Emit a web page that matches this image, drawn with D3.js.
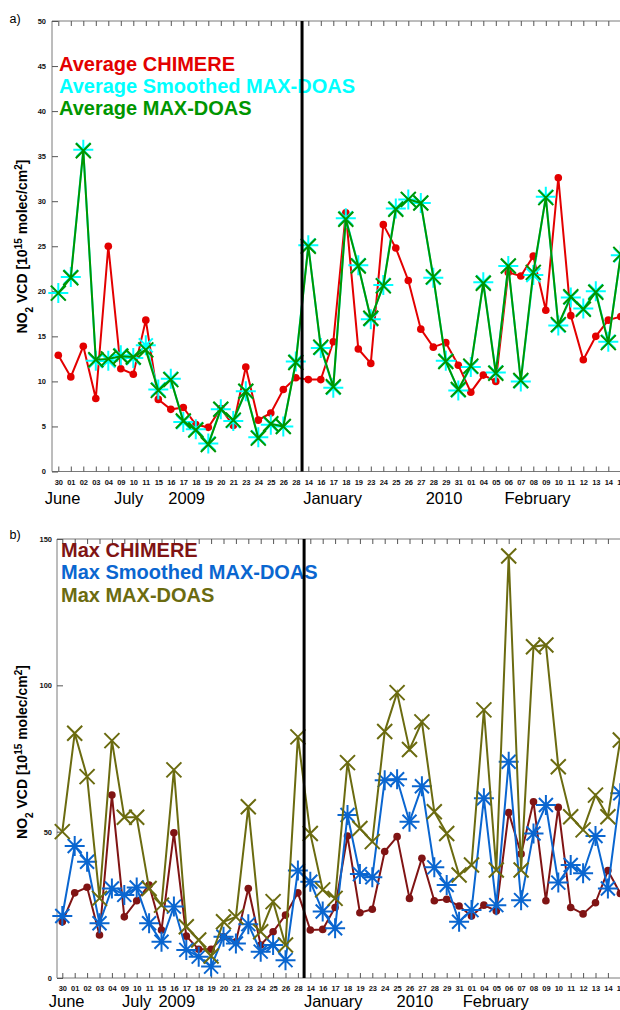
<!DOCTYPE html>
<html>
<head>
<meta charset="utf-8">
<script src="https://cdn.jsdelivr.net/npm/d3@7"></script>
<style>
  body { margin: 0; background: #fff; }
  svg { display: block; font-family: "Liberation Sans", Arial, sans-serif; }
</style>
</head>
<body>
<div id="chart"></div>
<script>
// category labels (measurement days), Jun-Jul 2009 then Jan-Feb 2010
const TICK_LABELS = ["30", "01", "02", "03", "04", "09", "10", "11", "15", "16",
  "17", "18", "19", "20", "21", "23", "24", "25", "26", "28",
  "14", "16", "17", "18", "19", "23", "24", "25", "26", "27",
  "28", "29", "31", "01", "04", "05", "06", "07", "08", "09",
  "10", "11", "12", "13", "14", "15"];
const MONTH_LABELS = ["June", "July", "2009", "January", "2010", "February"];

// a) averages
const AVG_CHIMERE = [12.9, 10.5, 13.9, 8.1, 25.0, 11.4, 10.8, 16.8, 8.0, 6.9,
  7.1, 5.2, 4.9, 7.0, 5.1, 11.6, 5.7, 6.5, 9.1, 10.4,
  10.2, 10.2, 14.4, 28.7, 13.6, 12.0, 27.4, 24.8, 21.2, 15.8,
  13.8, 14.3, 11.8, 8.8, 10.7, 10.0, 22.1, 21.7, 23.9, 17.9,
  32.6, 17.3, 12.4, 15.0, 16.8, 17.2];
const AVG_SMOOTHED = [19.8, 21.6, 35.7, 12.3, 12.3, 12.9, 12.6, 14.0, 9.1, 10.3,
  5.5, 4.7, 3.1, 6.9, 5.6, 8.9, 3.8, 5.2, 5.0, 12.2,
  25.1, 13.7, 9.3, 28.1, 22.9, 16.9, 20.7, 29.2, 30.2, 29.8,
  21.5, 12.3, 9.0, 11.6, 21.0, 11.0, 22.8, 10.0, 21.8, 30.5,
  16.2, 19.3, 18.1, 20.0, 14.4, 24.0];
const AVG_MAXDOAS = [19.8, 21.5, 35.6, 12.4, 12.5, 12.8, 12.7, 13.5, 9.0, 10.2,
  5.6, 4.6, 3.0, 6.9, 5.7, 8.9, 3.7, 5.3, 5.0, 12.1,
  25.0, 13.8, 9.4, 28.0, 22.8, 17.0, 20.6, 29.1, 30.2, 29.8,
  21.6, 12.2, 9.1, 11.7, 20.9, 10.9, 22.8, 10.1, 22.1, 30.4,
  16.3, 19.4, 18.0, 19.9, 14.3, 24.1];

// b) maxima
const MAX_CHIMERE = [19.2, 29.1, 31.0, 14.7, 62.5, 20.9, 26.4, 31.8, 16.4, 49.6,
  14.3, 9.8, 9.8, 14.1, 12.4, 30.6, 11.3, 15.8, 21.5, 29.1,
  16.4, 16.6, 24.1, 48.5, 22.3, 23.5, 43.2, 48.3, 27.2, 40.9,
  26.4, 26.9, 24.6, 21.2, 24.9, 22.9, 56.5, 42.4, 60.2, 26.4,
  58.3, 24.1, 21.9, 25.7, 36.7, 28.9];
const MAX_SMOOTHED = [21.2, 45.1, 39.7, 18.7, 30.6, 28.4, 30.9, 18.7, 12.4, 24.4,
  9.6, 7.3, 3.9, 14.1, 11.8, 18.4, 9.0, 11.3, 6.1, 36.7,
  32.9, 22.7, 17.0, 55.7, 35.5, 34.4, 67.6, 67.9, 53.4, 65.5,
  37.8, 31.8, 19.2, 23.2, 61.4, 24.9, 73.9, 26.6, 49.4, 59.1,
  32.6, 38.6, 35.8, 48.5, 30.6, 63.1];
const MAX_MAXDOAS = [50.0, 83.6, 68.8, 27.2, 81.1, 54.9, 54.9, 30.6, 24.9, 71.1,
  17.5, 13.0, 7.5, 19.2, 20.9, 58.5, 15.8, 26.1, 11.3, 82.4,
  49.4, 30.1, 27.2, 73.6, 51.1, 46.6, 84.2, 97.5, 78.1, 87.5,
  56.8, 49.4, 35.2, 38.6, 91.6, 36.9, 144.2, 36.9, 113.2, 113.8,
  72.2, 55.1, 50.6, 62.5, 55.1, 81.3];

const WIDTH = 620, HEIGHT = 1010;

const PANELS = [
  {
    tag: "a)", tagY: 22.5,
    top: 21, bottom: 471.5, left: 52, x0: 58.3, step: 12.5,
    yMax: 50, yTicks: d3.range(0, 51, 5), yPad: 6,
    labelY: 246.5,
    monthAt: [0.34, 5.62, 10.27, 21.94, 30.86, 38.34], monthY: 504,
    legendX: 59, legendY: 71, legendDy: 22,
    series: [
      { name: "Average CHIMERE", values: AVG_CHIMERE, color: "#e30000", marker: "dot" },
      { name: "Average Smoothed MAX-DOAS", values: AVG_SMOOTHED, color: "#00ffff", marker: "star" },
      { name: "Average MAX-DOAS", values: AVG_MAXDOAS, color: "#009600", marker: "cross" }
    ]
  },
  {
    tag: "b)", tagY: 539,
    top: 539, bottom: 978, left: 57, x0: 62.3, step: 12.4,
    yMax: 150, yTicks: [0, 50, 100, 150], yPad: 5,
    labelY: 752,
    monthAt: [0.35, 6.0, 9.23, 21.85, 28.44, 34.96], monthY: 1006.5,
    legendX: 61, legendY: 557, legendDy: 22.3,
    series: [
      { name: "Max CHIMERE", values: MAX_CHIMERE, color: "#801414", marker: "dot" },
      { name: "Max Smoothed MAX-DOAS", values: MAX_SMOOTHED, color: "#0a66d0", marker: "star" },
      { name: "Max MAX-DOAS", values: MAX_MAXDOAS, color: "#6b6b10", marker: "cross" }
    ]
  }
];

const svg = d3.select("#chart")
  .append("svg")
  .attr("width", WIDTH)
  .attr("height", HEIGHT);

// marker shapes
const STAR = "M-10,0H10M0,-10V10M-7,-7L7,7M-7,7L7,-7";
const CROSS = "M-7.5,-7.5L7.5,7.5M-7.5,7.5L7.5,-7.5";

PANELS.forEach((p) => {
  const g = svg.append("g");

  const x = d3.scaleLinear()
    .domain([0, 44])
    .range([p.x0, p.x0 + 44 * p.step]);
  const y = d3.scaleLinear()
    .domain([0, p.yMax])
    .range([p.bottom, p.top]);

  // frame lines
  g.append("line")
    .attr("x1", p.left).attr("x2", WIDTH + 5)
    .attr("y1", p.bottom).attr("y2", p.bottom)
    .attr("stroke", "#7a7a7a");
  g.append("line")
    .attr("x1", p.left).attr("x2", WIDTH + 5)
    .attr("y1", p.top).attr("y2", p.top)
    .attr("stroke", "#7a7a7a");
  g.append("line")
    .attr("x1", p.left).attr("x2", p.left)
    .attr("y1", p.top).attr("y2", p.bottom)
    .attr("stroke", "#7a7a7a");

  // x axis with day labels
  const xAxis = g.append("g")
    .attr("transform", `translate(0,${p.bottom})`)
    .call(d3.axisBottom(x)
      .tickValues(d3.range(TICK_LABELS.length))
      .tickFormat((i) => TICK_LABELS[i])
      .tickSizeInner(-5)
      .tickSizeOuter(0)
      .tickPadding(8));
  xAxis.select(".domain").remove();
  xAxis.selectAll(".tick line").attr("stroke", "#555");
  xAxis.selectAll("text")
    .attr("font-family", "'Liberation Sans', Arial, sans-serif")
    .attr("font-size", "7.5px")
    .attr("font-weight", "bold")
    .attr("fill", "#111");

  // mirrored ticks along the top border
  const topAxis = g.append("g")
    .attr("transform", `translate(0,${p.top})`)
    .call(d3.axisTop(x)
      .tickValues(d3.range(TICK_LABELS.length))
      .tickFormat("")
      .tickSizeInner(-5)
      .tickSizeOuter(0));
  topAxis.select(".domain").remove();
  topAxis.selectAll(".tick line").attr("stroke", "#555");

  // y axis
  const yAxis = g.append("g")
    .attr("transform", `translate(${p.left},0)`)
    .call(d3.axisLeft(y)
      .tickValues(p.yTicks)
      .tickSizeInner(-6)
      .tickSizeOuter(0)
      .tickPadding(p.yPad));
  yAxis.select(".domain").remove();
  yAxis.selectAll(".tick line").attr("stroke", "#555");
  yAxis.selectAll("text")
    .attr("font-family", "'Liberation Sans', Arial, sans-serif")
    .attr("font-size", "7.5px")
    .attr("font-weight", "bold")
    .attr("fill", "#111");

  // month / year labels
  g.selectAll(".month")
    .data(MONTH_LABELS)
    .enter()
    .append("text")
    .attr("class", "month")
    .attr("x", (d, i) => x(p.monthAt[i]))
    .attr("y", p.monthY)
    .attr("text-anchor", "middle")
    .attr("font-size", "16.5px")
    .text((d) => d);

  // y label
  const yl = g.append("text")
    .attr("transform", `translate(27,${p.labelY}) rotate(-90)`)
    .attr("text-anchor", "middle")
    .attr("font-size", "14px")
    .attr("font-weight", "bold");
  yl.append("tspan").text("NO");
  yl.append("tspan").attr("baseline-shift", "sub").attr("font-size", "10px").text("2");
  yl.append("tspan").text(" VCD [10");
  yl.append("tspan").attr("baseline-shift", "super").attr("font-size", "10px").text("15");
  yl.append("tspan").text(" molec/cm");
  yl.append("tspan").attr("baseline-shift", "super").attr("font-size", "10px").text("2");
  yl.append("tspan").text("]");

  // panel tag
  g.append("text")
    .attr("x", 9.5)
    .attr("y", p.tagY)
    .attr("font-size", "12.5px")
    .text(p.tag);

  // series
  const line = d3.line()
    .x((d, i) => x(i))
    .y((d) => y(d));

  p.series.forEach((s) => {
    const sg = g.append("g").attr("class", "series");
    sg.append("path")
      .attr("d", line(s.values))
      .attr("fill", "none")
      .attr("stroke", s.color)
      .attr("stroke-width", 2);

    const pts = sg.selectAll(".pt")
      .data(s.values)
      .enter();
    if (s.marker === "dot") {
      pts.append("circle")
        .attr("cx", (d, i) => x(i))
        .attr("cy", (d) => y(d))
        .attr("r", 3.8)
        .attr("fill", s.color);
    } else {
      pts.append("path")
        .attr("transform", (d, i) => `translate(${x(i)},${y(d)})`)
        .attr("d", s.marker === "star" ? STAR : CROSS)
        .attr("fill", "none")
        .attr("stroke", s.color)
        .attr("stroke-width", 2);
    }
  });

  // legend
  g.selectAll(".legend")
    .data(p.series)
    .enter()
    .append("text")
    .attr("class", "legend")
    .attr("x", p.legendX)
    .attr("y", (d, i) => p.legendY + i * p.legendDy)
    .attr("font-size", "20px")
    .attr("font-weight", "bold")
    .attr("fill", (d) => d.color)
    .text((d) => d.name);

  // season divider
  g.append("line")
    .attr("x1", x(19.5)).attr("x2", x(19.5))
    .attr("y1", p.top).attr("y2", p.bottom)
    .attr("stroke", "#000")
    .attr("stroke-width", 3);
});
</script>
</body>
</html>
